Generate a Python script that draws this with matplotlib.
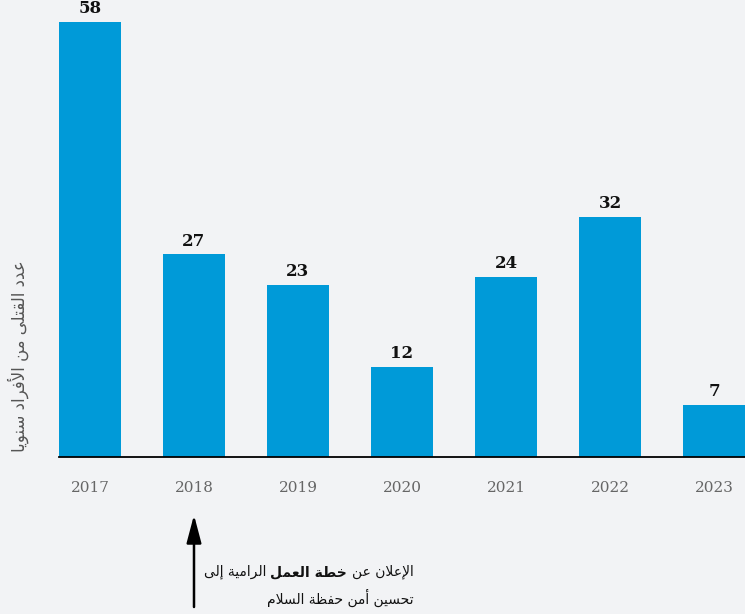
import matplotlib
matplotlib.use("Agg")
import matplotlib.pyplot as plt

years = ["2017", "2018", "2019", "2020", "2021", "2022", "2023"]
deaths = [58, 27, 23, 12, 24, 32, 7]

y_label = "عدد القتلى من الأفراد سنويا"
note_right = "الإعلان عن"
note_bold = "خطة العمل"
note_left = "الرامية إلى"
note_line2 = "تحسين أمن حفظة السلام"
note_year = "2018"

bar_color = "#009ad8"
bg = "#f2f3f5"

# arabic presentation forms: isolated, final, initial, medial
forms = {
    "ا": "\ufe8d\ufe8e", "أ": "\ufe83\ufe84", "إ": "\ufe87\ufe88",
    "ب": "\ufe8f\ufe90\ufe91\ufe92", "ة": "\ufe93\ufe94",
    "ت": "\ufe95\ufe96\ufe97\ufe98", "ح": "\ufea1\ufea2\ufea3\ufea4",
    "خ": "\ufea5\ufea6\ufea7\ufea8", "د": "\ufea9\ufeaa", "ر": "\ufead\ufeae",
    "س": "\ufeb1\ufeb2\ufeb3\ufeb4", "ط": "\ufec1\ufec2\ufec3\ufec4",
    "ظ": "\ufec5\ufec6\ufec7\ufec8", "ع": "\ufec9\ufeca\ufecb\ufecc",
    "ف": "\ufed1\ufed2\ufed3\ufed4", "ق": "\ufed5\ufed6\ufed7\ufed8",
    "ل": "\ufedd\ufede\ufedf\ufee0", "م": "\ufee1\ufee2\ufee3\ufee4",
    "ن": "\ufee5\ufee6\ufee7\ufee8", "ه": "\ufee9\ufeea\ufeeb\ufeec",
    "و": "\ufeed\ufeee", "ى": "\ufeef\ufef0", "ي": "\ufef1\ufef2\ufef3\ufef4",
    "لأ": "\ufef7\ufef8", "لإ": "\ufef9\ufefa", "لا": "\ufefb\ufefc",
}


def shape(s):
    units = []
    i = 0
    while i < len(s):
        if s[i] == "ل" and i + 1 < len(s) and s[i + 1] in "اأإ":
            units.append(s[i:i + 2])
            i += 2
        else:
            units.append(s[i])
            i += 1
    out = []
    for k, u in enumerate(units):
        f = forms.get(u)
        if f is None:
            out.append(u)
            continue
        prev = forms.get(units[k - 1]) if k > 0 else None
        nxt = forms.get(units[k + 1]) if k + 1 < len(units) else None
        jp = prev is not None and len(prev) == 4
        jn = len(f) == 4 and nxt is not None
        if jp and jn:
            out.append(f[3])
        elif jp:
            out.append(f[1])
        elif jn:
            out.append(f[2])
        else:
            out.append(f[0])
    return "".join(out)[::-1]


W, H = 745, 614
fig = plt.figure(figsize=(W / 100, H / 100), dpi=100, facecolor=bg)
ax = fig.add_axes([59 / W, 1 - 457 / H, 1 - 59 / W, 457 / H])
ax.set_facecolor(bg)

x = list(range(len(years)))
width = 0.596
bars = ax.bar(x, deaths, width=width, color=bar_color)
for xi, v in zip(x, deaths):
    ax.annotate(str(v), (xi, v), xytext=(0, 3.5), textcoords="offset points",
                ha="center", va="bottom", fontsize=12, fontweight="bold",
                family="DejaVu Serif", color="#111111")

ax.set_xlim(-width / 2, len(years) - 1 + width / 2)
ax.set_ylim(0, 457 / 7.5)
ax.set_xticks(x)
ax.set_xticklabels(years, family="DejaVu Serif", fontsize=11, color="#666666")
ax.tick_params(axis="x", length=0, pad=17)
ax.set_yticks([])
for side in ["top", "right", "left"]:
    ax.spines[side].set_visible(False)
ax.spines["bottom"].set_color("black")
ax.spines["bottom"].set_linewidth(1.3)

fig.text(18 / W, 1 - 356 / H, shape(y_label), rotation=90, ha="center",
         va="center", fontsize=12, color="#555555", family="DejaVu Sans")

# arrow pointing at the 2018 bar
xi = years.index(note_year)
ax.annotate("", xy=(xi, H - 515), xytext=(xi, H - 607),
            xycoords=("data", "figure pixels"), textcoords=("data", "figure pixels"),
            arrowprops=dict(arrowstyle="-|>,head_length=1.7,head_width=0.45",
                            color="black", lw=1.8, shrinkA=0, shrinkB=0),
            annotation_clip=False)

# annotation text, right aligned, bold middle part
fig.canvas.draw()
r = fig.canvas.get_renderer()
xr = 414
y1 = H - 572
t = fig.text(xr / W, y1 / H, shape(note_right), ha="right", va="center",
             fontsize=10, family="DejaVu Sans", color="#111111")
x0 = t.get_window_extent(r).x0 - 6
t = fig.text(x0 / W, y1 / H, shape(note_bold), ha="right", va="center",
             fontsize=10, fontweight="bold", family="DejaVu Sans", color="#111111")
x0 = t.get_window_extent(r).x0 - 3
fig.text(x0 / W, y1 / H, shape(note_left), ha="right", va="center",
         fontsize=10, family="DejaVu Sans", color="#111111")
fig.text(xr / W, (H - 598) / H, shape(note_line2), ha="right", va="center",
         fontsize=10, family="DejaVu Sans", color="#111111")

fig.savefig("out.png", dpi=100, facecolor=bg)
